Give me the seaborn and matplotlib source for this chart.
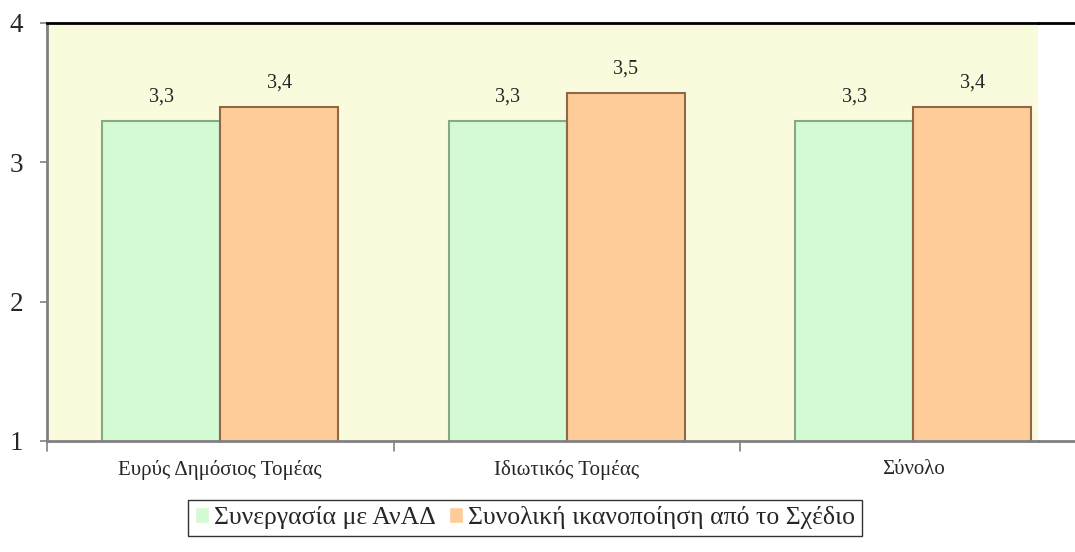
import matplotlib
matplotlib.use("Agg")
import matplotlib.pyplot as plt
import seaborn as sns
import pandas as pd
from matplotlib.lines import Line2D

categories = ["Ευρύς Δημόσιος Τομέας", "Ιδιωτικός Τομέας", "Σύνολο"]
series_names = ["Συνεργασία με ΑνΑΔ", "Συνολική ικανοποίηση από το Σχέδιο"]
values_coop = [3.3, 3.3, 3.3]
values_total = [3.4, 3.5, 3.4]
y_ticks = [1, 2, 3, 4]

df = pd.DataFrame({
    "cat": categories * 2,
    "series": [series_names[0]] * 3 + [series_names[1]] * 3,
    "val": values_coop + values_total,
})

sns.set_theme(style="white")
plt.rcParams["font.family"] = ["Liberation Serif", "DejaVu Serif"]

fig = plt.figure(figsize=(10.75, 5.52), dpi=100)
ax = fig.add_axes([47 / 1075, 1 - 441 / 552, (1038 - 47) / 1075, (441 - 23) / 552])
ax.set_facecolor("#fafbdc")

colors = ["#d4fad4", "#fdcc98"]
edges = ["#86a886", "#906848"]
sns.barplot(data=df, x="cat", y="val", hue="series", palette=colors,
            width=0.68, ax=ax, legend=True, errorbar=None, saturation=1)

for i, cont in enumerate(ax.containers):
    for p in cont:
        p.set_edgecolor(edges[i])
        p.set_linewidth(1.5)
    ax.bar_label(cont, labels=[f"{v:.1f}".replace(".", ",") for v in cont.datavalues],
                 padding=10, fontsize=14.5)

ax.set_ylim(1, 4)
ax.set_xlim(-0.5, 2.36)
ax.set_yticks(y_ticks)
ax.set_yticklabels([str(t) for t in y_ticks], fontsize=19.5)
ax.tick_params(axis="x", labelsize=15, length=0, pad=14)
ax.tick_params(axis="y", length=5, width=1.2, color="#808080", left=True, pad=12)
ax.set_xlabel("")
ax.set_ylabel("")

ax.spines["right"].set_visible(False)
ax.spines["top"].set_color("black")
ax.spines["top"].set_linewidth(2)
ax.spines["left"].set_color("#808080")
ax.spines["left"].set_linewidth(2)
ax.spines["bottom"].set_color("#808080")
ax.spines["bottom"].set_linewidth(2)

# extend top / bottom lines to the figure edge
fig.add_artist(Line2D([1038 / 1075, 1.0], [1 - 23 / 552] * 2, color="black", lw=2))
fig.add_artist(Line2D([1038 / 1075, 1.0], [1 - 441 / 552] * 2, color="#808080", lw=2))

# category boundary ticks
for xb in [-0.5, 0.5, 1.5]:
    ax.plot([xb, xb], [1, 0.93], color="#808080", lw=1.2, clip_on=False)

handles, labels = ax.get_legend_handles_labels()
ax.legend(handles, labels, loc="upper center", bbox_to_anchor=((525 - 47) / 991, -0.110),
          ncol=2, frameon=True, fontsize=18.5, handlelength=0.55, handleheight=0.55,
          handletextpad=0.2, columnspacing=0.5, borderpad=0.25, fancybox=False,
          edgecolor="black")
ax.get_legend().get_frame().set_linewidth(1)

fig.savefig("out.png", dpi=100)
